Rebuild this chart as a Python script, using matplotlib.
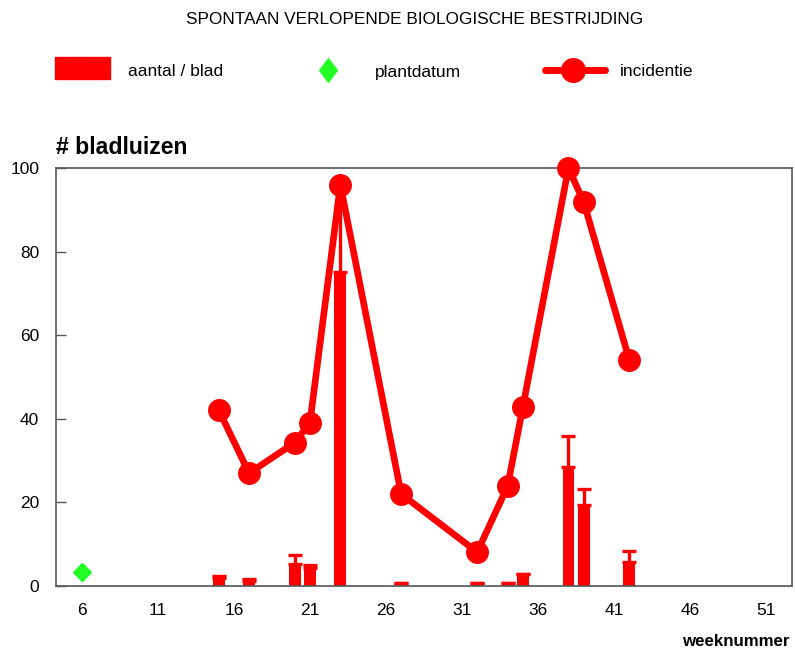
import matplotlib
matplotlib.use("Agg")
import matplotlib.pyplot as plt
from matplotlib.lines import Line2D
from matplotlib.patches import Rectangle

plt.rcParams['font.family'] = ['Liberation Sans', 'DejaVu Sans']

# Data
bar_weeks = [15, 17, 20, 21, 23, 27, 32, 34, 35, 38, 39, 42]
bar_values = [2.0, 1.3, 5.3, 4.2, 75.1, 0.8, 0.8, 0.8, 2.8, 28.5, 19.3, 5.7]
bar_errors = [0.3, 0.4, 2.0, 0.9, 20.9, 0.0, 0.0, 0.0, 0.0, 7.4, 4.0, 2.6]
inc_weeks = [15, 17, 20, 21, 23, 27, 32, 34, 35, 38, 39, 42]
inc_values = [42.1, 27.0, 34.3, 39.1, 96.0, 22.0, 8.1, 23.9, 42.8, 100.0, 91.9, 54.1]
plant_week = [6]
plant_value = [3.3]
xticks = [6, 11, 16, 21, 26, 31, 36, 41, 46, 51]
yticks = [0, 20, 40, 60, 80, 100]

RED = '#FF0000'
GREEN = '#22FF22'
W, H = 795, 649

fig = plt.figure(figsize=(W / 100, H / 100), dpi=100)
ax = fig.add_axes([56 / W, 1 - 586 / H, (792 - 56) / W, (586 - 168) / H])

ax.bar(bar_weeks, bar_values, width=0.78, color=RED, zorder=2)
ax.errorbar(bar_weeks, bar_values, yerr=[[0] * len(bar_errors), bar_errors],
            fmt='none', ecolor=RED, elinewidth=2.4, capsize=5, capthick=2.4, zorder=2)
ax.plot(inc_weeks, inc_values, color=RED, lw=4.8, marker='o', ms=15.5, zorder=4,
        clip_on=False)
ax.plot(plant_week, plant_value, linestyle='none', marker='D', ms=9,
        color=GREEN, zorder=4, clip_on=False)

ax.set_xlim(4.3, 52.7)
ax.set_ylim(0, 100)
ax.set_xticks(xticks)
ax.set_yticks(yticks)
ax.tick_params(axis='x', length=0, pad=12, labelsize=12.5)
ax.tick_params(axis='y', direction='in', length=7, width=1, color='#555555',
               pad=12, labelsize=12.5)
for s in ax.spines.values():
    s.set_color('#555555')
    s.set_linewidth(1.2)

def fx(px):
    return px / W

def fy(py):
    return 1 - py / H

fig.text(fx(415), fy(20), 'SPONTAAN VERLOPENDE BIOLOGISCHE BESTRIJDING',
         ha='center', va='center', fontsize=12.4)
fig.text(fx(56), fy(148), '# bladluizen', ha='left', va='center',
         fontsize=16.6, fontweight='bold')
fig.text(fx(790), fy(641), 'weeknummer', ha='right', va='center',
         fontsize=12.2, fontweight='bold')

# Legend (manual)
fig.add_artist(Rectangle((fx(55), fy(79)), (110 - 55) / W, (79 - 57) / H,
                         transform=fig.transFigure, color=RED))
fig.text(fx(128), fy(72), 'aantal / blad', ha='left', va='center', fontsize=12.5)
diamond = [(0, 1), (0.75, 0), (0, -1), (-0.75, 0), (0, 1)]
fig.add_artist(Line2D([fx(328)], [fy(70)], transform=fig.transFigure,
                      marker=diamond, ms=17, color=GREEN, linestyle='none'))
fig.text(fx(375), fy(72), 'plantdatum', ha='left', va='center', fontsize=12.5)
fig.add_artist(Line2D([fx(545), fx(605)], [fy(70), fy(70)], transform=fig.transFigure,
                      color=RED, lw=5, solid_capstyle='round'))
fig.add_artist(Line2D([fx(573)], [fy(70)], transform=fig.transFigure,
                      marker='o', ms=17, color=RED, linestyle='none'))
fig.text(fx(620), fy(72), 'incidentie', ha='left', va='center', fontsize=12.5)

fig.savefig('out.png', dpi=100)
